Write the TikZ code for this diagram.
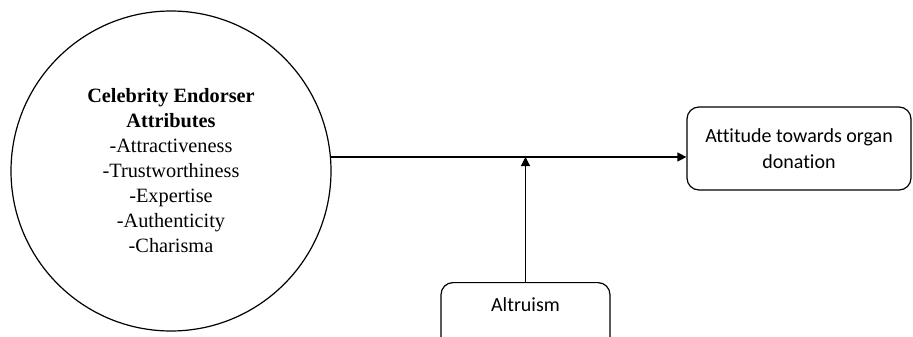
\documentclass[tikz,border=0pt]{standalone}
\usepackage{fontspec}
\setmainfont{Liberation Serif}
\newfontfamily\boxfont[Ligatures=NoCommon]{Carlito}
\usetikzlibrary{arrows.meta}
\begin{document}
\begin{tikzpicture}[x=1pt,y=-1pt,
  line width=1.2pt,
  rbox/.style={draw, rounded corners=12pt, inner sep=0pt, align=center,
    font=\boxfont\fontsize{20}{26}\selectfont},
  conn/.style={-{Triangle[length=9pt,width=9pt]}}]
\useasboundingbox (0,0) rectangle (913,337);
\clip (0,0) rectangle (913,337);
\node[draw, circle, minimum size=320pt, inner sep=0pt, align=center,
  font=\fontsize{20.3}{25}\selectfont] (circ) at (171,171)
  {\textbf{Celebrity Endorser}\\\textbf{Attributes}\\-Attractiveness\\-Trustworthiness\\-Expertise\\-Authenticity\\-Charisma};
\node[rbox, minimum width=224pt, minimum height=83pt] (att) at (799,148.5)
  {Attitude towards organ\\donation};
\node[rbox, minimum width=169pt, minimum height=66pt, anchor=north] (alt) at (525.5,282) {};
\node[font=\boxfont\fontsize{20}{26}\selectfont] (alttxt) at (525.5,305) {Altruism};
\coordinate (start) at (circ.5.7);
\draw[conn] (start) -- (start -| att.west);
\draw[conn] (alt.north) -- (alt.north |- start);
\end{tikzpicture}
\end{document}
